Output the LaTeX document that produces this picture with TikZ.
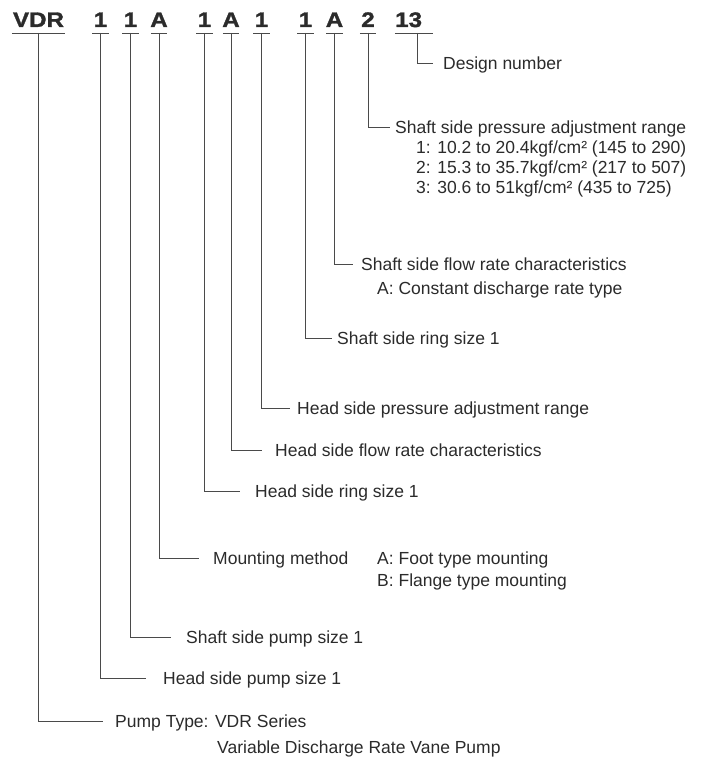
\documentclass[tikz,border=0pt]{standalone}
\usepackage{fontspec}
\setmainfont{Liberation Sans}
\newfontfamily\hdrfont[FakeStretch=1.15,FakeBold=1.5]{Liberation Sans}
\definecolor{txt}{HTML}{2B2B2B}
\definecolor{lnc}{HTML}{4A4A4A}
\begin{document}
\begin{tikzpicture}[x=1pt,y=-1pt,
  code/.style={font=\hdrfont\bfseries\fontsize{21}{21}\selectfont, anchor=base, inner sep=0pt, text=txt},
  ul/.style={inner sep=0pt, minimum height=0pt, minimum width=#1},
  lbl/.style={font=\fontsize{17.5}{20}\selectfont, anchor=west, inner sep=0pt, text height=12.6pt, text depth=0pt, text=txt},
  ln/.style={draw=lnc, line width=0.9pt}]
\fill[white] (0,0) rectangle (723,759);
\useasboundingbox (0,0) rectangle (723,759);
% code characters
\node[code] (c1) at (38.5,27) {VDR};
\node[code] (c2) at (100.5,27) {1};
\node[code] (c3) at (130.5,27) {1};
\node[code] (c4) at (159,27) {A};
\node[code] (c5) at (204.5,27) {1};
\node[code] (c6) at (231,27) {A};
\node[code] (c7) at (261.5,27) {1};
\node[code] (c8) at (305.5,27) {1};
\node[code] (c9) at (334.5,27) {A};
\node[code] (c10) at (368,27) {2};
\node[code,anchor=base west] (c11) at (395,27) {13};
% underlines
\node[ul=53pt] (u1) at (38.5,33) {};
\node[ul=16pt] (u2) at (100.5,33) {};
\node[ul=16pt] (u3) at (130.5,33) {};
\node[ul=16pt] (u4) at (159,33) {};
\node[ul=16pt] (u5) at (204.5,33) {};
\node[ul=16pt] (u6) at (231,33) {};
\node[ul=16pt] (u7) at (261.5,33) {};
\node[ul=16pt] (u8) at (305.5,33) {};
\node[ul=16pt] (u9) at (334.5,33) {};
\node[ul=16pt] (u10) at (368,33) {};
\node[ul=38pt] (u11) at (414,33) {};
\foreach \i in {1,...,11} {\draw[ln] (u\i.west) -- (u\i.east);}
% labels
\node[lbl] (l11) at (443,63) {Design number};
\node[lbl] (l10) at (395,127) {Shaft side pressure adjustment range};
\node[lbl] (l10a) at (416,147) {1: 10.2 to 20.4kgf/cm² (145 to 290)};
\node[lbl] (l10b) at (416,167) {2: 15.3 to 35.7kgf/cm² (217 to 507)};
\node[lbl] (l10c) at (416,187) {3: 30.6 to 51kgf/cm² (435 to 725)};
\node[lbl] (l9) at (361,264) {Shaft side flow rate characteristics};
\node[lbl] (l9a) at (377,288) {A: Constant discharge rate type};
\node[lbl] (l8) at (337,338) {Shaft side ring size 1};
\node[lbl] (l7) at (297,408) {Head side pressure adjustment range};
\node[lbl] (l6) at (275,450) {Head side flow rate characteristics};
\node[lbl] (l5) at (255,491) {Head side ring size 1};
\node[lbl] (l4) at (213,558) {Mounting method};
\node[lbl] (l4a) at (377,558) {A: Foot type mounting};
\node[lbl] (l4b) at (377,580) {B: Flange type mounting};
\node[lbl] (l3) at (186,637) {Shaft side pump size 1};
\node[lbl] (l2) at (163,678) {Head side pump size 1};
\node[lbl] (l1) at (115,721) {Pump Type: VDR Series};
\node[lbl] (l1a) at (217,747) {Variable Discharge Rate Vane Pump};
% connectors
\draw[ln] ([xshift=3pt]u11.center) |- ([xshift=-10pt]l11.west);
\draw[ln] (u10.center) |- ([xshift=-5pt]l10.west);
\draw[ln] (u9.center) |- ([xshift=-8pt]l9.west);
\draw[ln] (u8.center) |- ([xshift=-5pt]l8.west);
\draw[ln] (u7.center) |- ([xshift=-7pt]l7.west);
\draw[ln] (u6.center) |- ([xshift=-13pt]l6.west);
\draw[ln] (u5.center) |- ([xshift=-15pt]l5.west);
\draw[ln] (u4.center) |- ([xshift=-14pt]l4.west);
\draw[ln] (u3.center) |- ([xshift=-15pt]l3.west);
\draw[ln] (u2.center) |- ([xshift=-17pt]l2.west);
\draw[ln] (u1.center) |- ([xshift=-12pt]l1.west);
\end{tikzpicture}
\end{document}
